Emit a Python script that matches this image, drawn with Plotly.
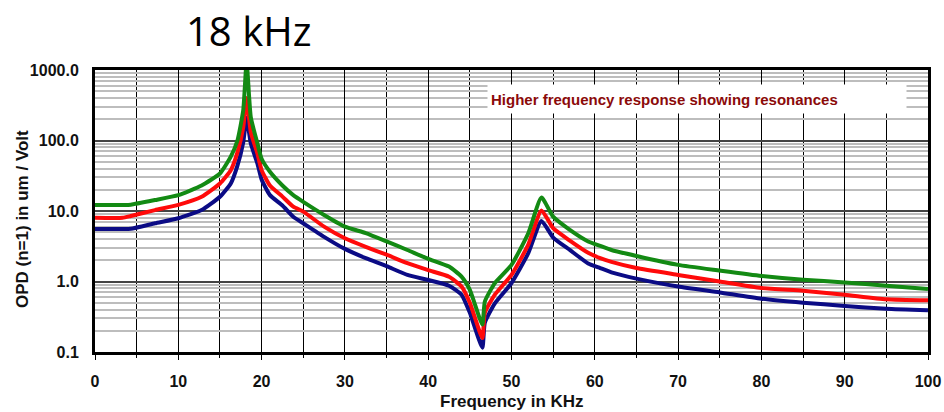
import plotly.graph_objects as go

freq = [0, 3.3, 4.3, 7.2, 10, 12.8, 15, 16.3, 17.1, 17.8, 18.2, 18.7, 19.5, 20, 21, 22.5, 23.8, 25, 27.5, 30,
        32.5, 35, 37.5, 40, 42.5, 44, 45, 46.5, 46.8, 48, 50, 52, 53.6, 55, 57, 59.2, 60.65,
        62, 65, 70, 75, 80, 85, 90, 95, 100]
green = [12.2, 12.2, 12.3, 14.3, 16.8, 23, 34, 59, 100, 270, 1300, 215, 91, 55, 36, 23, 16.8, 13.5, 8.8, 6.0,
         4.85, 3.7, 2.8, 2.1, 1.63, 1.17, 0.76, 0.245, 0.52, 0.95, 1.72, 4.8, 15.5, 8.3, 5.4, 3.7, 3.2,
         2.8, 2.3, 1.72, 1.43, 1.2, 1.06, 0.97, 0.87, 0.78]
red = [8.0, 8.0, 8.5, 10.3, 12.2, 15.9, 24.6, 38, 68, 155, 400, 132, 65, 38, 23, 16, 11.5, 9.8, 6.0, 4.1,
       3.1, 2.4, 1.82, 1.45, 1.17, 0.85, 0.50, 0.158, 0.36, 0.65, 1.24, 3.3, 10.2, 5.7, 3.8, 2.55, 2.14,
       1.9, 1.55, 1.24, 1.0, 0.81, 0.74, 0.65, 0.56, 0.54]
blue = [5.56, 5.56, 5.6, 6.7, 7.9, 10.3, 15.9, 24.6, 44, 95, 210, 91, 47, 28, 16.8, 12, 8.3, 6.7, 4.3, 2.9,
        2.14, 1.65, 1.24, 1.05, 0.87, 0.65, 0.36, 0.115, 0.26, 0.49, 0.95, 2.5, 7.2, 4.2, 2.8, 1.8, 1.55,
        1.35, 1.1, 0.85, 0.70, 0.57, 0.50, 0.45, 0.41, 0.39]

y_tickvals = [0.1, 1, 10, 100, 1000]
y_ticktext = ["0.1", "1.0", "10.0", "100.0", "1000.0"]
x_tickvals = [0, 10, 20, 30, 40, 50, 60, 70, 80, 90, 100]

fig = go.Figure()
for vals, col in [(blue, "#0b0b85"), (red, "#ff0a0a"), (green, "#138a13")]:
    fig.add_trace(go.Scatter(x=freq, y=vals, mode="lines",
                             line=dict(color=col, width=4, shape="spline", smoothing=0.5),
                             showlegend=False))

tick_font = dict(family="Liberation Sans, Arial", size=16, color="#111111")
font_axis = dict(family="Liberation Sans, Arial", size=17, color="#111111")

fig.update_layout(
    width=944, height=412,
    margin=dict(l=94.5, r=16, t=69.6, b=59.6, autoexpand=False),
    paper_bgcolor="white", plot_bgcolor="white",
    xaxis=dict(range=[0, 100], tickvals=x_tickvals, ticktext=["<b>%d</b>" % v for v in x_tickvals],
               showgrid=True, gridcolor="#000000", gridwidth=1, automargin=False,
               minor=dict(dtick=5, showgrid=True, gridcolor="#000000", gridwidth=1,
                          ticks="outside", ticklen=3, tickcolor="black"),
               ticks="outside", ticklen=5, tickcolor="black", tickwidth=1,
               showline=True, linecolor="black", linewidth=3, mirror=True,
               tickfont=tick_font, ticklabelstandoff=8, zeroline=False),
    yaxis=dict(type="log", range=[-1, 3], tickvals=y_tickvals,
               ticktext=["<b>%s</b>" % t for t in y_ticktext], automargin=False,
               showgrid=True, gridcolor="#444444", gridwidth=1.5,
               minor=dict(dtick="D1", showgrid=True, gridcolor="#bdbdbd", gridwidth=1.5),
               ticks="", showline=True, linecolor="black", linewidth=3, mirror=True,
               tickfont=tick_font, ticklabelstandoff=10, zeroline=False),
    font=dict(family="Liberation Sans, Arial", color="#111111"),
)

fig.add_annotation(text="<b>OPD (n=1) in um / Volt</b>", xref="paper", yref="paper",
                   x=-0.087, y=0.47, xanchor="center", yanchor="middle", textangle=-90,
                   showarrow=False, font=font_axis)
fig.add_annotation(text="<b>Frequency in KHz</b>", xref="paper", yref="paper",
                   x=0.5, y=-0.175, xanchor="center", yanchor="middle",
                   showarrow=False, font=font_axis)
fig.add_annotation(text="18 kHz", xref="paper", yref="paper",
                   x=0.184, y=1.14, xanchor="center", yanchor="middle", borderpad=0,
                   showarrow=False, font=dict(family="Open Sans", size=40, color="black"))
fig.add_annotation(text="<b>Higher frequency response showing resonances</b>", xref="paper", yref="paper",
                   x=0.471, y=0.896, xanchor="left", yanchor="middle", align="left",
                   width=412, height=22, bgcolor="white", borderpad=3,
                   showarrow=False, font=dict(family="Liberation Sans, Arial", size=15, color="#8b0a0a"))

fig.write_html("out.html")
